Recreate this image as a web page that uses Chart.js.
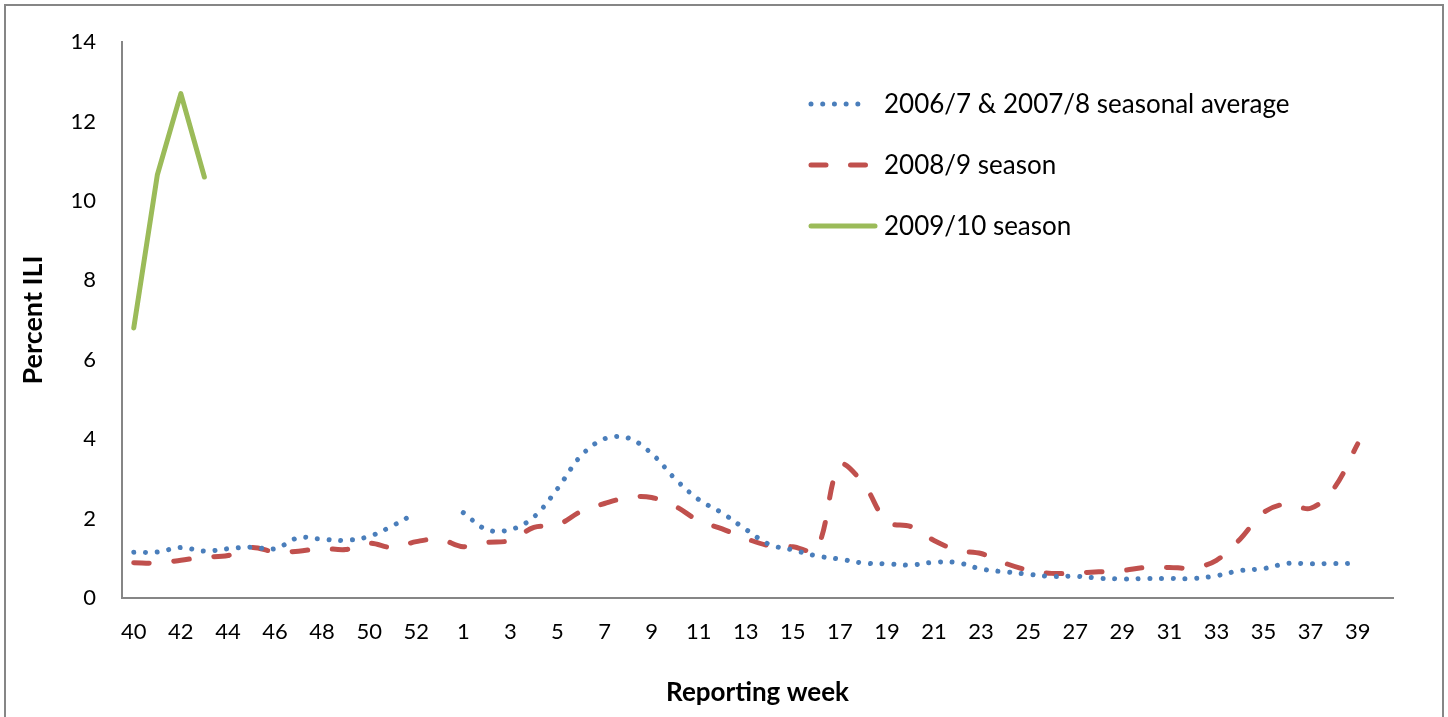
<!DOCTYPE html>
<html>
<head>
<meta charset="utf-8">
<script src="https://cdn.jsdelivr.net/npm/chart.js@4.4.1/dist/chart.umd.min.js"></script>
<style>
  html, body { margin: 0; padding: 0; background: #fff; }
  canvas { display: block; }
</style>
</head>
<body>
<canvas id="ili-chart" width="1448" height="717"></canvas>
<script>
// reporting weeks, 2009 has a week 53
const weeks = [
  '40', '41', '42', '43', '44', '45', '46', '47', '48', '49', '50', '51', '52', '53',
  '1', '2', '3', '4', '5', '6', '7', '8', '9', '10', '11', '12', '13', '14', '15',
  '16', '17', '18', '19', '20', '21', '22', '23', '24', '25', '26', '27', '28', '29',
  '30', '31', '32', '33', '34', '35', '36', '37', '38', '39', '40',
]

// 2006/7 & 2007/8 average (no week 53)
const avgSeason = [
  1.15, 1.16, 1.27, 1.18, 1.24, 1.28, 1.24, 1.52, 1.48, 1.45, 1.55, 1.82, 2.15, null,
  2.15, 1.72, 1.72, 2.04, 2.75, 3.58, 4.01, 4.03, 3.64, 3.0, 2.48, 2.14, 1.73, 1.35, 1.21,
  1.06, 0.98, 0.88, 0.86, 0.83, 0.9, 0.89, 0.73, 0.66, 0.6, 0.54, 0.55, 0.5, 0.48,
  0.49, 0.49, 0.49, 0.56, 0.69, 0.74, 0.87, 0.86, 0.87, 0.87, null,
]

const season0809 = [
  0.89, 0.88, 0.95, 1.03, 1.07, 1.27, 1.16, 1.18, 1.25, 1.22, 1.38, 1.27, 1.42, 1.48,
  1.29, 1.4, 1.45, 1.78, 1.84, 2.18, 2.38, 2.53, 2.53, 2.31, 1.95, 1.74, 1.5, 1.32, 1.29,
  1.22, 3.35, 2.88, 1.92, 1.8, 1.45, 1.2, 1.12, 0.88, 0.7, 0.62, 0.63, 0.66, 0.69,
  0.77, 0.77, 0.76, 0.95, 1.48, 2.15, 2.37, 2.26, 2.77, 3.88, null,
]

const season0910 = [6.8, 10.65, 12.7, 10.6]

const seriesNames = [
  '2006/7 & 2007/8 seasonal average',
  '2008/9 season',
  '2009/10 season',
]

const FONT = 'Lato, "Open Sans", sans-serif'

// outer frame around the whole picture
const framePlugin = {
  id: 'frame',
  afterDraw(chart) {
    const ctx = chart.ctx
    ctx.save()
    ctx.strokeStyle = '#868686'
    ctx.lineWidth = 2
    ctx.strokeRect(5, 5, 1438, 760)
    ctx.restore()
  },
}

// legend sits inside the plot, like the excel one
const insideLegend = {
  id: 'insideLegend',
  afterDraw(chart) {
    const ctx = chart.ctx
    const x0 = 811
    const textX = 884
    ctx.save()
    chart.data.datasets.forEach((ds, k) => {
      const y = 104 + k * 61
      ctx.strokeStyle = ds.borderColor
      ctx.lineWidth = ds.borderWidth
      ctx.lineCap = 'round'
      ctx.setLineDash(k === 1 ? [15, 24.5] : ds.borderDash || [])
      ctx.beginPath()
      ctx.moveTo(x0, y)
      ctx.lineTo(k === 2 ? 875 : 867, y)
      ctx.stroke()
      ctx.setLineDash([])
      ctx.fillStyle = '#000'
      ctx.font = `26px ${FONT}`
      ctx.textBaseline = 'middle'
      ctx.fillText(ds.label, textX, y + 1)
    })
    ctx.restore()
  },
}

const ctx = document.getElementById('ili-chart').getContext('2d')
new Chart(ctx, {
  type: 'line',
  data: {
    labels: weeks,
    datasets: [
      {
        label: seriesNames[0],
        data: avgSeason,
        borderColor: '#4a7ebb',
        borderWidth: 5,
        borderDash: [0.01, 11.7],
        borderCapStyle: 'round',
        tension: 0.35,
        pointRadius: 0,
        spanGaps: false,
      },
      {
        label: seriesNames[1],
        data: season0809,
        borderColor: '#c0504d',
        borderWidth: 5,
        borderDash: [15.5, 24.7],
        borderCapStyle: 'round',
        tension: 0.35,
        pointRadius: 0,
      },
      {
        label: seriesNames[2],
        data: season0910,
        borderColor: '#9bbb59',
        borderWidth: 5,
        borderCapStyle: 'round',
        borderJoinStyle: 'round',
        tension: 0,
        pointRadius: 0,
      },
    ],
  },
  options: {
    responsive: false,
    animation: false,
    layout: { padding: { top: 42, right: 55, left: 0, bottom: 0 } },
    plugins: { legend: { display: false }, tooltip: { enabled: false } },
    scales: {
      x: {
        offset: true,
        grid: { display: false, drawTicks: false },
        border: { display: true, color: '#868686', width: 2 },
        ticks: {
          autoSkip: false,
          maxRotation: 0,
          padding: 21,
          color: '#000',
          font: { family: FONT, size: 22 },
          callback: (v, i) => (i % 2 === 0 ? weeks[i] : ''),
        },
        title: {
          display: true,
          text: 'Reporting week',
          color: '#000',
          font: { family: FONT, size: 26, weight: 'bold' },
          padding: { top: 0, bottom: 9 },
        },
        afterFit: (scale) => {
          scale.height = 119
        },
      },
      y: {
        min: 0,
        max: 14,
        grid: { display: false, drawTicks: false },
        border: { display: true, color: '#868686', width: 2 },
        ticks: {
          stepSize: 2,
          padding: 26,
          color: '#000',
          font: { family: FONT, size: 22 },
        },
        title: {
          display: true,
          text: 'Percent ILI',
          color: '#000',
          font: { family: FONT, size: 27, weight: 'bold' },
          padding: { top: 17, bottom: 0 },
        },
        afterFit: (scale) => {
          scale.width = 122
        },
      },
    },
  },
  plugins: [framePlugin, insideLegend],
})
</script>
</body>
</html>
